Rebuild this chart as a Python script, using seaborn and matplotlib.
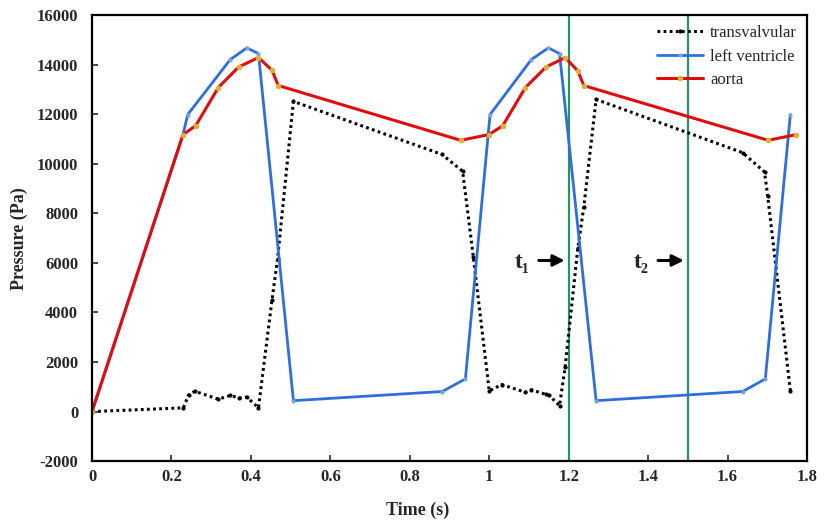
import numpy as np
import pandas as pd
import seaborn as sns
import matplotlib.pyplot as plt

# aorta pressure (Pa)
aorta_t = [0, 0.229, 0.261, 0.318, 0.369, 0.419, 0.453, 0.469, 0.928,
           0.999, 1.034, 1.091, 1.143, 1.191, 1.223, 1.238, 1.702, 1.773]
aorta_p = [0, 11180, 11540, 13080, 13910, 14290, 13780, 13160, 10950,
           11180, 11540, 13080, 13910, 14290, 13750, 13160, 10950, 11180]

# left ventricle pressure (Pa)
lv_t = [0, 0.229, 0.241, 0.348, 0.390, 0.419, 0.507, 0.882, 0.940,
        1.002, 1.106, 1.149, 1.177, 1.269, 1.638, 1.695, 1.758]
lv_p = [0, 11180, 11990, 14210, 14680, 14450, 440, 810, 1320,
        11990, 14210, 14680, 14450, 440, 810, 1320, 11990]

# transvalvular pressure (Pa)
trans_t = [0, 0.230, 0.243, 0.259, 0.318, 0.348, 0.371, 0.390, 0.419, 0.453,
           0.467, 0.507, 0.881, 0.933, 0.960, 1.000, 1.031, 1.091, 1.106, 1.143,
           1.151, 1.177, 1.191, 1.223, 1.238, 1.269, 1.638, 1.693, 1.701, 1.758]
trans_p = [0, 150, 670, 820, 500, 650, 550, 580, 150, 4490,
           6150, 12520, 10380, 9700, 6230, 830, 1090, 780, 880, 690,
           650, 240, 1790, 6600, 8250, 12600, 10450, 9670, 8700, 850]

# time markers
t_marks = [1.2, 1.5]
t_labels = ["t\u2081", "t\u2082"]

sns.set_style("ticks")
plt.rcParams['font.family'] = ['Liberation Serif', 'DejaVu Serif']
plt.rcParams['axes.unicode_minus'] = False

fig = plt.figure(figsize=(8.29, 5.24), dpi=100)
ax = fig.add_axes([0.111, 0.120, 0.8625, 0.851])

trans = pd.DataFrame({'t': trans_t, 'p': trans_p})
lv = pd.DataFrame({'t': lv_t, 'p': lv_p})
aorta = pd.DataFrame({'t': aorta_t, 'p': aorta_p})

sns.lineplot(data=trans, x='t', y='p', sort=False, ax=ax, color='black',
             linestyle=(0, (0.9, 1.1)), linewidth=2.2, marker='o', markersize=3,
             markeredgewidth=0, label='transvalvular')
sns.lineplot(data=lv, x='t', y='p', sort=False, ax=ax, color='#2f6fdc',
             linewidth=2.0, marker='o', markersize=3, markerfacecolor='#7aa6e0',
             markeredgewidth=0, label='left ventricle')
sns.lineplot(data=aorta, x='t', y='p', sort=False, ax=ax, color='#e00d0d',
             linewidth=2.2, marker='o', markersize=4, markerfacecolor='#d9b23a',
             markeredgewidth=0, label='aorta')

for xm, lab in zip(t_marks, t_labels):
    ax.axvline(xm, color='#2a9262', linewidth=1.6, zorder=1)
    ax.annotate('', xy=(xm - 0.003, 6100), xytext=(xm - 0.082, 6100),
                arrowprops=dict(arrowstyle='-|>', color='black', lw=2.2,
                                mutation_scale=17))
    ax.text(xm - 0.118, 6000, lab, fontsize=17, fontweight='bold',
            ha='center', va='center')

ax.set_xlim(0, 1.8)
ax.set_ylim(-2000, 16000)
ax.set_xticks(np.arange(0, 1.81, 0.2))
ax.set_xticklabels(['0', '0.2', '0.4', '0.6', '0.8', '1', '1.2', '1.4', '1.6', '1.8'])
ax.set_yticks(np.arange(-2000, 16001, 2000))
ax.tick_params(direction='in', length=4, width=1.2, labelsize=12)
ax.tick_params(axis='y', pad=10)
ax.tick_params(axis='x', pad=6)
for lbl in ax.get_xticklabels() + ax.get_yticklabels():
    lbl.set_fontweight('bold')
for sp in ax.spines.values():
    sp.set_visible(True)
    sp.set_linewidth(1.6)
    sp.set_color('black')

ax.set_xlabel('Time (s)', fontsize=13, fontweight='bold')
ax.set_ylabel('Pressure (Pa)', fontsize=13, fontweight='bold')
ax.xaxis.set_label_coords(0.456, -0.09)
ax.yaxis.set_label_coords(-0.09, 0.5)

leg = ax.legend(loc='upper right', frameon=False, fontsize=12,
                handlelength=2.8, handletextpad=0.4, labelspacing=0.45,
                borderaxespad=0.2)

fig.savefig('out.png', dpi=100)
